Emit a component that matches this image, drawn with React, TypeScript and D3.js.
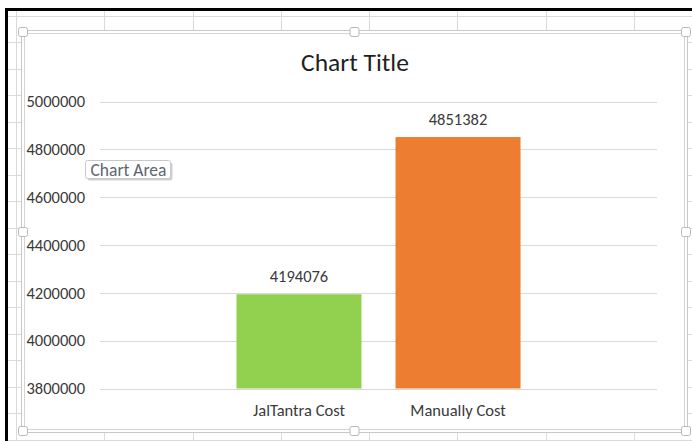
import React, {useRef, useEffect} from 'react';
import {select, scaleBand, scaleLinear, axisLeft} from 'd3';

// values
const categories = ['JalTantra Cost', 'Manually Cost'];
const costs = [4194076, 4851382];
const barColors = ['#92D050', '#ED7D31'];
const yTicks = [3800000, 4000000, 4200000, 4400000, 4600000, 4800000, 5000000];
const chartTitle = 'Chart Title';
const tooltipText = 'Chart Area';

const W = 692;
const H = 441;
const FONT = 'Calibri, Carlito, Lato, sans-serif';

const App = () => {
  const svgRef = useRef<SVGSVGElement>(null);

  useEffect(() => {
    const svg = select(svgRef.current);
    svg.selectAll('*').remove();

    // spreadsheet background
    svg.append('rect').attr('width', W).attr('height', H).attr('fill', '#fff');
    const grid = svg.append('g').attr('stroke', '#dadada').attr('stroke-width', 1);
    for (let x = 16; x < W; x += 88.25) {
      grid.append('line').attr('x1', Math.round(x) + 0.5).attr('x2', Math.round(x) + 0.5)
        .attr('y1', 11).attr('y2', H);
    }
    for (let y = 15.5; y < H; y += 26.5) {
      grid.append('line').attr('x1', 8).attr('x2', W)
        .attr('y1', Math.round(y) + 0.5).attr('y2', Math.round(y) + 0.5);
    }
    // black screenshot border
    svg.append('rect').attr('x', 5).attr('y', 8).attr('width', W).attr('height', 3).attr('fill', '#000');
    svg.append('rect').attr('x', 5).attr('y', 8).attr('width', 3).attr('height', H).attr('fill', '#000');

    // chart area with selection frame
    svg.append('rect').attr('x', 21.5).attr('y', 30.5).attr('width', 666).attr('height', 402)
      .attr('fill', '#fff').attr('stroke', '#c9c9c9');
    svg.append('rect').attr('x', 24.5).attr('y', 33.5).attr('width', 660).attr('height', 396)
      .attr('fill', 'none').attr('stroke', '#d4d4d4');

    const handles = [
      [23, 32], [354.5, 32], [686, 32],
      [23, 232], [686, 232],
      [23, 431], [354.5, 431], [686, 431]
    ];
    svg.append('g').selectAll('rect').data(handles).join('rect')
      .attr('x', d => d[0] - 4.5).attr('y', d => d[1] - 4.5)
      .attr('width', 9).attr('height', 9).attr('rx', 2)
      .attr('fill', '#fff').attr('stroke', '#b8b8b8');

    const plot = {left: 100, right: 657, top: 101.5, bottom: 388.5};

    const xScale = scaleBand().domain(categories)
      .range([plot.left, plot.right])
      .paddingInner(0.214)
      .paddingOuter(0.858);

    const yScale = scaleLinear().domain([3800000, 5000000])
      .range([plot.bottom, plot.top]);

    // gridlines
    svg.append('g').selectAll('line').data(yTicks).join('line')
      .attr('x1', plot.left).attr('x2', plot.right)
      .attr('y1', d => Math.round(yScale(d)) + 0.5)
      .attr('y2', d => Math.round(yScale(d)) + 0.5)
      .attr('stroke', '#d9d9d9');

    // y axis labels
    const yAxis = axisLeft(yScale).tickValues(yTicks).tickSize(0).tickPadding(0)
      .tickFormat(d => String(d));
    const ax = svg.append('g').attr('transform', `translate(85,0)`).call(yAxis);
    ax.select('.domain').remove();
    ax.selectAll('text')
      .attr('font-family', FONT).attr('font-size', 16.5).attr('fill', '#3a3a3a');

    // bars
    svg.append('g').selectAll('rect').data(costs).join('rect')
      .attr('x', (d, i) => xScale(categories[i]))
      .attr('y', d => yScale(d))
      .attr('width', xScale.bandwidth())
      .attr('height', d => plot.bottom - yScale(d))
      .attr('fill', (d, i) => barColors[i]);

    // data labels
    svg.append('g').selectAll('text').data(costs).join('text')
      .attr('x', (d, i) => xScale(categories[i]) + xScale.bandwidth() / 2)
      .attr('y', d => yScale(d) - 12.5)
      .attr('text-anchor', 'middle')
      .attr('font-family', FONT).attr('font-size', 16.5).attr('fill', '#3a3a3a')
      .text(d => d);

    // category labels
    svg.append('g').selectAll('text').data(categories).join('text')
      .attr('x', d => xScale(d) + xScale.bandwidth() / 2)
      .attr('y', 416)
      .attr('text-anchor', 'middle')
      .attr('font-family', FONT).attr('font-size', 16.5).attr('fill', '#3a3a3a')
      .text(d => d);

    // title
    svg.append('text')
      .attr('x', 355).attr('y', 71)
      .attr('text-anchor', 'middle')
      .attr('font-family', FONT).attr('font-size', 25.5).attr('fill', '#1f1f1f')
      .text(chartTitle);

    // hover tooltip
    svg.append('rect').attr('x', 87.5).attr('y', 162.5).attr('width', 85).attr('height', 18)
      .attr('rx', 2).attr('fill', '#d0d0d0');
    svg.append('rect').attr('x', 85.5).attr('y', 160.5).attr('width', 85).attr('height', 18)
      .attr('rx', 2).attr('fill', '#fff').attr('stroke', '#c8c8c8');
    svg.append('text').attr('x', 128.5).attr('y', 176)
      .attr('text-anchor', 'middle')
      .attr('font-family', FONT).attr('font-size', 17.5).attr('fill', '#5c6670')
      .text(tooltipText);
  }, []);

  return (
    <svg ref={svgRef} width={W} height={H}
      style={{position: 'absolute', left: 0, top: 0, display: 'block'}} />
  );
}

export default App;
